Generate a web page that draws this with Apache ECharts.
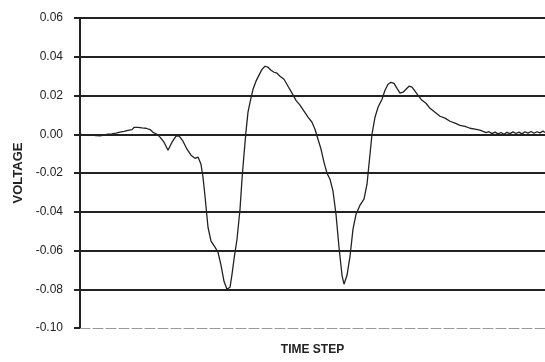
<!DOCTYPE html>
<html><head><meta charset="utf-8">
<script src="https://cdn.jsdelivr.net/npm/echarts@6/dist/echarts.min.js"></script>
<style>html,body{margin:0;padding:0;background:#fff}#c{width:545px;height:362px}</style>
</head><body><div id="c"></div>
<script>
const timeSteps = [0,2,4,6,8,10,12,14,16,18,20,22,24,26,28,30,32,34,36,38,40,42,44,46,48,50,52,54,56,58,60,62,64,66,68,70,73,77,80,84,88,92,96,99,103,107,111,115,118,121,123,125,128,131,135,138,141,144,147,150,152,154,157,160,162,164,166,168,170,173,176,179,182,185,188,191,194,197,200,204,208,212,216,220,224,228,232,235,238,241,244,247,250,253,256,259,262,264,267,270,273,276,280,284,287,290,292,295,298,302,305,308,311,314,317,320,323,326,329,332,335,338,342,346,350,355,360,365,370,375,380,385,390,395,400,403,406,409,412,415,418,421,424,427,430,433,436,439,442,445,448,451,454,457,460,463,465];
const voltage = [0.0000,0.0006,-0.0003,0.0004,-0.0006,0.0002,-0.0004,0.0003,-0.0007,0.0001,-0.0008,0.0002,-0.0005,0.0003,0.0000,0.0007,0.0002,0.0010,0.0006,0.0016,0.0011,0.0021,0.0015,0.0025,0.0020,0.0030,0.0024,0.0035,0.0028,0.0036,0.0027,0.0033,0.0025,0.0031,0.0022,0.0024,0.0010,0.0000,-0.0015,-0.0041,-0.0083,-0.0041,-0.0010,-0.0008,-0.0036,-0.0077,-0.0108,-0.0124,-0.0118,-0.0155,-0.0222,-0.0320,-0.0480,-0.0552,-0.0583,-0.0609,-0.0676,-0.0759,-0.0800,-0.0790,-0.0723,-0.0645,-0.0542,-0.0387,-0.0232,-0.0103,0.0015,0.0114,0.0165,0.0232,0.0274,0.0305,0.0335,0.0351,0.0346,0.0330,0.0320,0.0315,0.0299,0.0284,0.0248,0.0212,0.0175,0.0150,0.0119,0.0088,0.0062,0.0026,-0.0026,-0.0077,-0.0145,-0.0201,-0.0232,-0.0294,-0.0413,-0.0583,-0.0728,-0.0774,-0.0728,-0.0630,-0.0490,-0.0413,-0.0366,-0.0335,-0.0258,-0.0103,0.0000,0.0088,0.0139,0.0181,0.0227,0.0258,0.0268,0.0263,0.0237,0.0212,0.0217,0.0232,0.0248,0.0243,0.0222,0.0201,0.0175,0.0160,0.0134,0.0114,0.0093,0.0083,0.0067,0.0057,0.0046,0.0041,0.0031,0.0026,0.0021,0.0015,0.0008,0.0013,0.0003,0.0011,0.0002,0.0009,0.0000,0.0010,0.0003,0.0012,0.0004,0.0011,0.0002,0.0013,0.0006,0.0014,0.0005,0.0013,0.0007,0.0016,0.0009,0.0015,0.0012];
const yTicks = {min: -0.10, max: 0.06, step: 0.02};
const xTitle = 'TIME STEP';
const yTitle = 'VOLTAGE';

const chart = echarts.init(document.getElementById('c'));
chart.setOption({
  animation: false,
  backgroundColor: '#fff',
  grid: {left: 80, right: 0, top: 18, bottom: 34},
  xAxis: {
    type: 'value', min: 0, max: 465,
    name: xTitle, nameLocation: 'middle', nameGap: 16,
    nameTextStyle: {fontFamily: 'Liberation Sans', fontWeight: 'bold', fontSize: 12, color: '#222'},
    axisLine: {show: true, onZero: false, lineStyle: {color: '#999', width: 1, type: [10, 3]}},
    axisTick: {show: false}, axisLabel: {show: false}, splitLine: {show: false}
  },
  yAxis: {
    type: 'value', min: yTicks.min, max: yTicks.max, interval: yTicks.step,
    name: yTitle, nameLocation: 'middle', nameGap: 55,
    nameTextStyle: {fontFamily: 'Liberation Sans', fontWeight: 'bold', fontSize: 13, color: '#222'},
    axisLine: {show: true, lineStyle: {color: '#222', width: 2}},
    axisTick: {show: true, length: 6, lineStyle: {color: '#222', width: 2}},
    axisLabel: {margin: 17, fontFamily: 'Liberation Sans', fontSize: 12, color: '#222',
      formatter: v => v.toFixed(2)},
    splitLine: {show: true, lineStyle: {color: ['rgba(0,0,0,0)', '#222', '#222', '#222', '#222', '#222', '#222', '#222', '#222'], width: 2}}
  },
  series: [{
    type: 'line', data: timeSteps.map((t, i) => [t, voltage[i]]),
    showSymbol: false, symbol: 'none',
    lineStyle: {color: '#222', width: 1.3}, z: 5
  }]
});
</script></body></html>
